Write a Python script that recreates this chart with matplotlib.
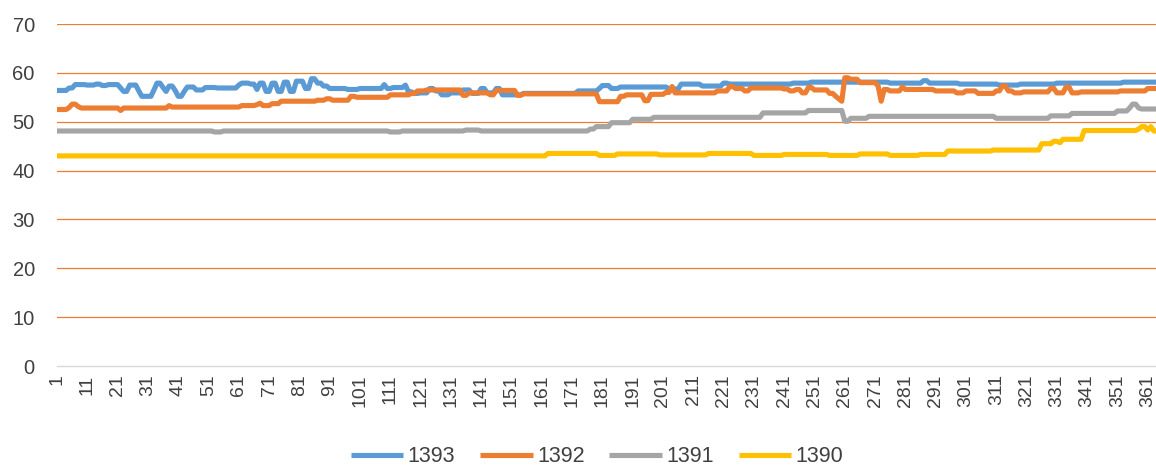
import numpy as np
import matplotlib
matplotlib.use("Agg")
import matplotlib.pyplot as plt

# ---- data (run-length encoded daily values) ----
series_names = ["1393", "1392", "1391", "1390"]

blue_vals = [56.4, 56.9, 57.6, 57.5, 57.7, 57.4, 57.6, 56.9, 56.2, 57.5, 56.3, 55.2, 56.5, 57.9, 57.0,
             56.2, 57.3, 56.4, 55.2, 56.2, 57.1, 56.5, 57.0, 56.9, 57.5, 57.9, 57.7, 56.6, 57.9, 56.2,
             57.9, 56.2, 58.1, 56.2, 58.3, 56.8, 58.8, 57.9, 57.3, 56.8, 56.6, 56.8, 57.6, 56.8, 57.0,
             57.5, 56.1, 55.8, 55.9, 56.8, 56.3, 55.5, 55.9, 56.5, 55.8, 56.8, 55.9, 56.8, 55.5, 55.8,
             56.3, 56.8, 57.4, 56.8, 57.1, 56.7, 57.7, 57.3, 57.9, 57.7, 57.9, 58.1, 57.9, 58.4, 57.9,
             57.7, 57.5, 57.7, 57.9, 58.1]
blue_runs = [4, 2, 4, 3, 2, 2, 4, 1, 2, 3, 1, 4, 1, 2, 1,
             1, 2, 1, 2, 1, 3, 3, 4, 7, 1, 3, 2, 1, 2, 2,
             2, 2, 2, 2, 3, 2, 2, 2, 2, 6, 4, 8, 1, 2, 4,
             1, 2, 2, 3, 2, 2, 3, 4, 3, 3, 2, 3, 2, 7, 18,
             7, 1, 3, 3, 16, 4, 7, 7, 2, 21, 6, 26, 11, 2, 10,
             13, 7, 12, 22, 13]

orange_vals = [52.5, 52.9, 53.6, 53.1, 52.8, 52.3, 52.8, 53.3, 53.0, 53.3, 53.5, 53.8, 53.3, 53.7, 54.2,
               54.4, 54.7, 54.4, 55.2, 55.0, 55.5, 55.8, 56.3, 56.5, 55.4, 55.9, 55.5, 56.4, 55.4, 55.7,
               54.1, 55.2, 55.5, 54.3, 55.6, 56.0, 57.2, 55.9, 56.3, 57.2, 56.8, 56.3, 56.9, 56.7, 56.3,
               56.6, 55.9, 57.0, 56.5, 55.8, 55.2, 54.7, 54.2, 59.0, 58.7, 58.0, 57.3, 54.2, 56.6, 56.3,
               57.1, 56.6, 56.3, 55.9, 56.3, 55.8, 56.3, 57.3, 56.3, 55.9, 56.1, 56.8, 55.9, 57.1, 55.9,
               56.1, 56.3, 56.8]
orange_runs = [4, 1, 2, 1, 13, 1, 15, 1, 23, 5, 1, 1, 3, 3, 12,
               3, 2, 6, 2, 11, 7, 2, 3, 12, 2, 7, 2, 7, 2, 25,
               7, 2, 6, 2, 5, 2, 1, 14, 4, 2, 3, 2, 11, 2, 2,
               2, 2, 2, 5, 2, 1, 1, 1, 2, 3, 6, 1, 1, 2, 4,
               1, 10, 7, 3, 4, 6, 2, 2, 2, 3, 9, 2, 3, 2, 3,
               13, 9, 5]

gray_vals = [48.1, 47.9, 48.1, 47.9, 48.1, 48.3, 48.1, 48.5, 49.0, 49.8, 50.5, 50.9, 51.8, 52.3, 50.1,
             50.7, 51.1, 50.7, 51.2, 51.7, 52.2, 52.8, 53.6, 52.8, 52.6]
gray_runs = [52, 3, 55, 4, 21, 5, 36, 2, 5, 7, 7, 36, 15, 12, 2,
             6, 42, 18, 7, 15, 4, 1, 2, 1, 7]

yellow_vals = [43.0, 43.5, 43.1, 43.4, 43.2, 43.5, 43.1, 43.3, 43.1, 43.4, 43.1, 43.3,
               44.0, 44.2, 45.5, 46.0, 45.7, 46.4, 48.2, 48.5, 49.0, 48.3, 49.0, 48.1]
yellow_runs = [162, 17, 6, 14, 16, 15, 10, 15, 10, 10, 10, 9,
               15, 16, 4, 2, 1, 7, 18, 1, 2, 1, 1, 3]

colors = ["#5B9BD5", "#ED7D31", "#A5A5A5", "#FFC000"]
y_ticks = [0, 10, 20, 30, 40, 50, 60, 70]
x_tick_labels = [str(v) for v in range(1, 362, 10)]

# ---- build series ----
series = [np.repeat(blue_vals, blue_runs),
          np.repeat(orange_vals, orange_runs),
          np.repeat(gray_vals, gray_runs),
          np.repeat(yellow_vals, yellow_runs)]

plt.rcParams['font.family'] = ['Liberation Sans', 'DejaVu Sans']

fig = plt.figure(figsize=(11.56, 4.66), dpi=100)
ax = fig.add_axes([57 / 1156, 1 - 366 / 466, 1 - 57 / 1156, (366 - 24) / 466])

for name, vals, c in zip(series_names, series, colors):
    ax.plot(np.arange(1, len(vals) + 1), vals, color=c, lw=3.7, label=name,
            solid_joinstyle='round', solid_capstyle='butt')

ax.set_ylim(0, 70)
ax.set_xlim(1, 1 + (1156 - 57) / 3.03)
ax.set_yticks(y_ticks)
ax.set_yticklabels([str(v) for v in y_ticks])
ax.set_xticks(list(range(1, 362, 10)))
ax.set_xticklabels(x_tick_labels, rotation=90)

for v in y_ticks[1:]:
    ax.axhline(v, color="#ED7D31", lw=0.9, zorder=0)
for s in ["top", "right", "left"]:
    ax.spines[s].set_visible(False)
ax.spines["bottom"].set_color("#D9D9D9")
ax.spines["bottom"].set_linewidth(1.0)

ax.tick_params(axis='y', length=0, pad=16, labelsize=14.5, labelcolor="#404040")
ax.tick_params(axis='x', length=0, pad=6, labelsize=14, labelcolor="#404040")

leg = fig.legend(loc='center', bbox_to_anchor=(597 / 1156, 1 - 457 / 466), ncol=4,
                 frameon=False, fontsize=15.5, handlelength=2.45, handletextpad=0.2,
                 columnspacing=1.15, borderaxespad=0)
for t in leg.get_texts():
    t.set_color("#404040")
for h in leg.get_lines():
    h.set_linewidth(3.7)

fig.savefig("out.png", dpi=100)
